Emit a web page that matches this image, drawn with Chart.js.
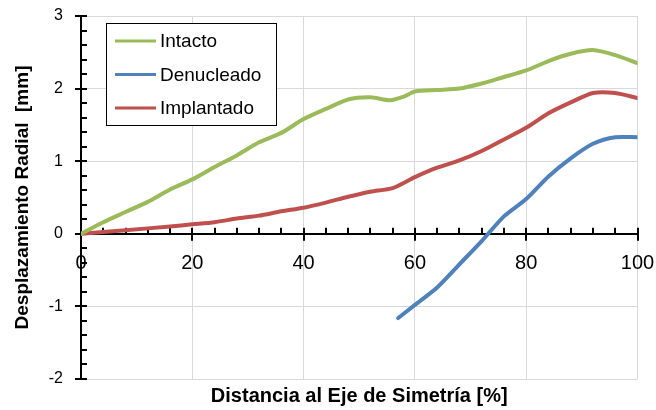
<!DOCTYPE html>
<html>
<head>
<meta charset="utf-8">
<script src="https://cdn.jsdelivr.net/npm/chart.js@4/dist/chart.umd.min.js"></script>
<style>
  html, body { margin: 0; padding: 0; background: #ffffff; }
  #wrap { width: 656px; height: 410px; }
</style>
</head>
<body>
<div id="wrap"><canvas id="chart" width="656" height="410"></canvas></div>
<script>
// Radial displacement along the symmetry axis, three disc conditions
const seriesNames = ['Intacto', 'Denucleado', 'Implantado'];

const intactoX = [0, 4, 8, 12, 16, 20, 24, 28, 32, 36, 40, 44, 48, 52, 55.5, 58, 60, 64, 68, 72, 76, 80, 84, 88, 92, 96, 100];
const intactoY = [0, 0.16, 0.30, 0.44, 0.61, 0.75, 0.92, 1.08, 1.26, 1.39, 1.58, 1.72, 1.85, 1.88, 1.84, 1.89, 1.96, 1.98, 2.00, 2.07, 2.16, 2.25, 2.38, 2.48, 2.53, 2.46, 2.35];

const denucleadoX = [57, 60, 64, 68, 72, 76, 80, 84, 88, 92, 96, 100];
const denucleadoY = [-1.16, -0.98, -0.74, -0.42, -0.10, 0.24, 0.48, 0.79, 1.04, 1.24, 1.33, 1.33];

const implantadoX = [0, 8, 16, 20, 24, 28, 32, 36, 40, 44, 48, 52, 56, 60, 64, 68, 72, 76, 80, 84, 88, 92, 96, 100];
const implantadoY = [0, 0.05, 0.10, 0.13, 0.16, 0.21, 0.25, 0.31, 0.36, 0.43, 0.51, 0.58, 0.63, 0.78, 0.91, 1.01, 1.14, 1.30, 1.46, 1.66, 1.81, 1.94, 1.94, 1.87];

const xTicks = [0, 20, 40, 60, 80, 100];
const yTicks = [-2, -1, 0, 1, 2, 3];

const colors = ['#9BBB59', '#4F81BD', '#C0504D'];
const FONT = '"Liberation Sans", Arial, Helvetica, sans-serif';

function points(xs, ys) {
  return xs.map((x, i) => ({ x: x, y: ys[i] }));
}

// Label overflow is handled by the layout padding instead
function noScalePadding(scale) {
  scale.paddingLeft = 0;
  scale.paddingRight = 0;
  scale.paddingTop = 0;
  scale.paddingBottom = 0;
}

// Major ticks crossing the axes, minor ticks on the inner side
const axisTicks = {
  id: 'axisTicks',
  beforeDatasetsDraw(chart) {
    const ctx = chart.ctx;
    const xs = chart.scales.x, ys = chart.scales.y;
    const x0 = xs.getPixelForValue(0);
    const y0 = ys.getPixelForValue(0);
    ctx.save();
    ctx.strokeStyle = '#000';
    ctx.lineWidth = 2;
    ctx.beginPath();
    for (let v = 0; v <= 100.001; v += 4) {
      const px = Math.round(xs.getPixelForValue(v));
      if (Math.abs(v % 20) < 1e-6) {
        ctx.moveTo(px, y0 - 6); ctx.lineTo(px, y0 + 7);
      } else {
        ctx.moveTo(px, y0); ctx.lineTo(px, y0 - 6);
      }
    }
    for (let k = -10; k <= 15; k++) {
      const v = k / 5;
      const py = Math.round(ys.getPixelForValue(v));
      if (k % 5 === 0) {
        ctx.moveTo(x0 - 6, py); ctx.lineTo(x0 + 6, py);
      } else {
        ctx.moveTo(x0, py); ctx.lineTo(x0 + 6, py);
      }
    }
    ctx.stroke();
    ctx.restore();
  }
};

// Boxed legend inside the plot area
const boxedLegend = {
  id: 'boxedLegend',
  afterDatasetsDraw(chart) {
    const ctx = chart.ctx;
    const left = 106, top = 23, w = 170, h = 102;
    ctx.save();
    ctx.fillStyle = '#fff';
    ctx.fillRect(left, top, w, h);
    ctx.strokeStyle = '#000';
    ctx.lineWidth = 1;
    ctx.strokeRect(left + 0.5, top + 0.5, w, h);
    ctx.font = '19px ' + FONT;
    ctx.textBaseline = 'middle';
    ctx.textAlign = 'left';
    chart.data.datasets.forEach((ds, i) => {
      const y = top + 18 + i * 33.5;
      ctx.strokeStyle = ds.borderColor;
      ctx.lineWidth = 3;
      ctx.beginPath();
      ctx.moveTo(115, y);
      ctx.lineTo(156, y);
      ctx.stroke();
      ctx.fillStyle = '#000';
      ctx.fillText(ds.label, 160, y + 1);
    });
    ctx.restore();
  }
};

new Chart(document.getElementById('chart'), {
  type: 'line',
  data: {
    datasets: [
      { label: seriesNames[0], data: points(intactoX, intactoY), borderColor: colors[0] },
      { label: seriesNames[1], data: points(denucleadoX, denucleadoY), borderColor: colors[1] },
      { label: seriesNames[2], data: points(implantadoX, implantadoY), borderColor: colors[2] }
    ]
  },
  options: {
    responsive: false,
    animation: false,
    devicePixelRatio: 1,
    layout: { padding: { left: 0, right: 18.5, top: 16, bottom: 0 } },
    elements: {
      line: { borderWidth: 4, tension: 0.25, fill: false, borderCapStyle: 'round', borderJoinStyle: 'round' },
      point: { radius: 0, hoverRadius: 0 }
    },
    plugins: {
      legend: { display: false },
      tooltip: { enabled: false },
      title: {
        display: true,
        position: 'bottom',
        fullSize: false,
        text: 'Distancia al Eje de Simetría [%]',
        color: '#000',
        font: { family: FONT, size: 20, weight: 'bold', lineHeight: 1.2 },
        padding: { top: 5, bottom: 2 }
      }
    },
    scales: {
      x: {
        type: 'linear',
        position: { y: 0 },
        min: 0, max: 100,
        afterBuildTicks(scale) { scale.ticks = xTicks.map(v => ({ value: v })); },
        afterFit: noScalePadding,
        ticks: {
          color: '#000',
          font: { family: FONT, size: 20 },
          padding: 18,
          maxRotation: 0
        },
        grid: { color: '#d9d9d9', lineWidth: 1, drawTicks: false },
        border: { color: '#000', width: 2 }
      },
      y: {
        type: 'linear',
        position: 'left',
        min: -2, max: 3,
        afterBuildTicks(scale) { scale.ticks = yTicks.map(v => ({ value: v })); },
        afterFit(scale) { scale.width = 81; noScalePadding(scale); },
        ticks: {
          color: '#000',
          font: { family: FONT, size: 16 },
          padding: 18
        },
        grid: { color: '#d9d9d9', lineWidth: 1, drawTicks: false },
        border: { color: '#000', width: 2 },
        title: {
          display: true,
          text: 'Desplazamiento Radial  [mm]',
          color: '#000',
          font: { family: FONT, size: 19, weight: 'bold', lineHeight: 1.2 },
          padding: { top: 11, bottom: 0 }
        }
      }
    }
  },
  plugins: [axisTicks, boxedLegend]
});
</script>
</body>
</html>
